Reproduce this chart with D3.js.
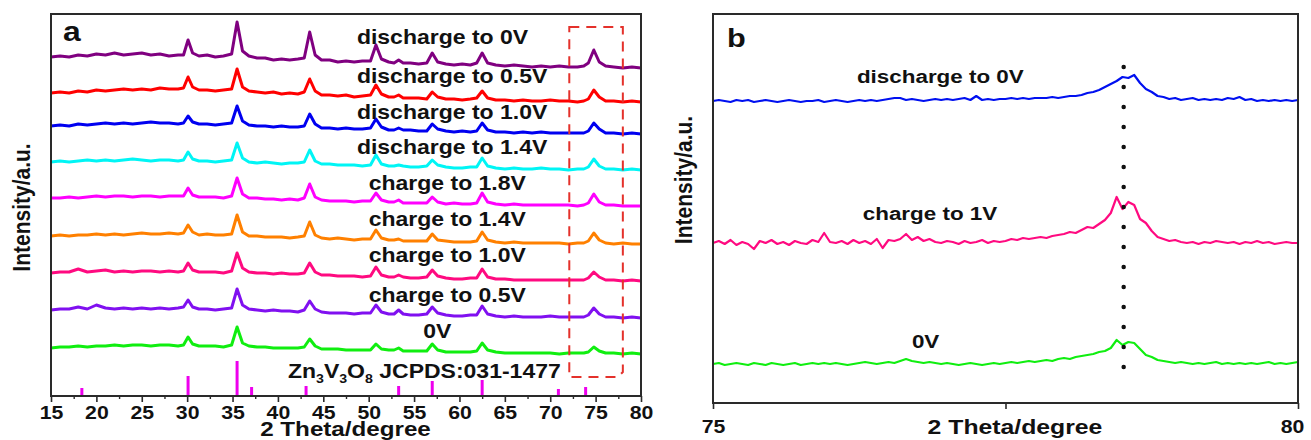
<!DOCTYPE html>
<html>
<head>
<meta charset="utf-8">
<script src="https://cdn.jsdelivr.net/npm/d3@7"></script>
<style>
  body { margin: 0; background: #fff; }
  text { font-family: "Liberation Sans", Arial, sans-serif; font-weight: bold; fill: #111; }
</style>
</head>
<body>
<svg id="chart" width="1311" height="440"></svg>
<script>
// ---------- Panel a: ex-situ XRD patterns, 15–80° ----------
// 2θ sampling positions shared by every pattern in panel a
const thetaA = [
  15,16,17,18,19,20,21,22,23,24,25,26,27,28,29,
  29.6,30.1,30.6,31.3,32.2,33.1,34.0,34.9,
  35.5,36.1,36.8,37.7,38.6,39.5,40.4,41.3,42.2,42.9,
  43.5,44.1,44.8,45.7,46.6,47.5,48.4,49.3,50.2,
  50.8,51.4,52.2,52.8,53.3,53.8,54.6,55.5,56.4,
  57.0,57.6,58.5,59.4,60.3,61.2,61.9,
  62.5,63.1,64,65,66,67,68,69,70,71,72,73,73.7,74.2,
  74.8,75.4,76.1,77,78,79,80
];

const labelsA = ["discharge to 0V","discharge to 0.5V","discharge to 1.0V","discharge to 1.4V",
                 "charge to 1.8V","charge to 1.4V","charge to 1.0V","charge to 0.5V","0V"];
// vertical stacking offset of each pattern (a.u.)
const offsetsA = [328, 294, 262, 226, 190, 152, 115, 78, 42];

// intensity above each pattern's own offset (a.u.)
const dis0V = [
  11,12,11,13,12,14,13,15,13,14,15,13,14,12,13,
  13,28,15,12,13,11,12,14,
  46,17,12,10,10,8,9,8,9,10,
  36,13,8,8,6,7,6,7,7,
  23,9,6,5,8,5,5,4,5,
  15,6,4,3,4,3,5,
  15,5,3,2,3,2,1,2,1,2,1,1,2,5,
  18,6,2,1,0,1,0];
const dis05V = [
  9,10,9,11,10,12,11,12,13,12,13,12,14,13,13,
  14,25,15,12,12,11,12,13,
  33,15,11,10,9,10,8,9,8,10,
  23,11,7,7,6,7,5,6,7,
  17,8,5,5,7,4,4,4,3,
  10,5,3,3,2,3,4,
  11,4,2,2,1,2,1,1,2,1,1,0,1,3,
  12,5,1,1,0,1,0];
const dis10V = [
  8,9,8,10,9,10,11,10,11,10,11,12,11,11,10,
  11,18,12,10,10,9,10,11,
  28,13,9,8,8,7,8,7,7,8,
  20,10,6,6,5,6,5,5,6,
  15,7,4,4,6,4,4,3,3,
  10,5,3,2,3,2,3,
  11,4,2,2,1,2,1,2,1,1,1,1,1,3,
  11,5,1,1,0,1,0];
const dis14V = [
  8,9,8,9,10,9,10,9,10,11,10,9,10,10,9,
  10,18,11,9,9,8,9,10,
  27,12,8,7,8,7,6,7,7,8,
  20,9,6,6,5,5,5,4,5,
  15,6,4,4,5,4,3,3,4,
  10,5,3,2,2,3,3,
  12,4,2,1,2,1,1,2,1,1,0,1,1,3,
  11,4,1,1,0,1,0];
const chg18V = [
  8,8,9,8,9,10,9,10,10,9,10,10,9,10,10,
  10,18,11,9,9,9,8,10,
  28,12,8,8,7,7,6,7,6,8,
  22,9,6,5,5,5,4,5,5,
  13,6,4,4,6,3,3,3,3,
  9,4,2,3,2,2,3,
  13,4,2,1,2,1,1,1,1,1,1,0,1,3,
  12,4,1,1,0,0,0];
const chg14V = [
  8,9,8,9,9,10,9,10,9,10,11,10,10,11,10,
  11,19,12,9,10,9,9,10,
  29,12,8,8,7,7,7,6,7,8,
  22,9,6,5,6,5,4,5,5,
  14,6,4,4,5,3,3,3,3,
  10,4,3,2,2,2,3,
  12,4,2,1,2,1,1,1,1,1,0,1,1,3,
  11,4,1,0,1,0,0];
const chg10V = [
  8,9,9,12,9,10,11,9,10,9,10,10,9,10,9,
  10,18,11,9,9,9,8,10,
  28,13,9,8,8,7,8,7,7,8,
  18,9,6,6,5,5,5,4,5,
  14,6,4,4,6,4,3,3,4,
  11,5,3,2,2,3,3,
  12,4,2,2,1,1,1,1,1,1,1,1,1,3,
  9,4,1,1,0,1,0];
const chg05V = [
  8,9,9,11,9,13,10,9,10,9,10,9,10,9,10,
  11,18,11,9,9,8,9,10,
  29,13,9,8,7,8,7,7,6,8,
  17,9,6,5,5,5,4,5,5,
  13,6,4,4,8,4,3,3,4,
  11,5,3,2,2,3,3,
  12,4,2,1,2,1,1,1,2,1,1,1,1,3,
  10,4,1,1,0,1,0];
const ocv0V = [
  6,7,7,8,7,8,8,9,8,9,9,8,9,9,8,
  9,17,10,8,8,8,7,9,
  27,11,8,7,7,6,6,6,6,7,
  15,8,5,5,5,4,4,4,4,
  10,5,4,4,6,3,3,3,3,
  10,4,2,2,2,2,3,
  11,4,2,1,1,1,1,1,1,0,1,1,1,2,
  7,3,1,1,0,1,0];
const valuesA = [dis0V, dis05V, dis10V, dis14V, chg18V, chg14V, chg10V, chg05V, ocv0V];

// Zn3V3O8 standard card JCPDS 031-1477
const refTheta = [18.4, 30.1, 35.5, 37.1, 43.1, 53.3, 57.0, 62.5, 70.9, 73.9];
const refIntensity = [8, 20, 35, 9, 10, 10, 15, 16, 7, 9];

const ticksA = [15,20,25,30,35,40,45,50,55,60,65,70,75,80];
const minorTicksA = [17.5,22.5,27.5,32.5,37.5,42.5,47.5,52.5,57.5,62.5,67.5,72.5,77.5];

// ---------- Panel b: zoom on 75–80° ----------
const labelsB = ["discharge to 0V", "charge to 1V", "0V"];
const offsetsB = [302, 160, 39];
// sampled every 0.05° from 75 to 80
const bDis0V = [
  0,1,0,-1,1,0,1,-1,0,1,
  0,-1,0,1,0,-1,0,0,1,-1,
  0,1,0,-1,0,1,0,1,0,1,
  2,3,3,1,2,1,0,1,2,1,
  2,1,2,3,1,5,1,2,1,2,
  2,3,2,3,2,3,3,3,4,3,
  4,5,5,6,8,9,11,14,17,20,
  24,23,26,18,12,9,5,4,2,3,
  1,2,3,1,2,1,2,1,3,2,
  4,1,2,0,1,0,1,0,1,0,
  1];
const bChg1V = [
  0,2,-1,3,-2,1,-1,-6,2,0,
  3,-1,1,-2,2,0,-1,3,1,10,
  1,0,2,-1,3,0,2,-1,4,-5,
  3,2,4,9,3,6,2,4,1,0,
  2,1,-1,2,0,1,3,0,2,1,
  2,4,3,5,4,5,6,5,7,8,
  9,11,10,13,16,15,19,23,30,46,
  34,41,38,24,20,12,6,4,2,3,
  1,0,1,-1,1,0,2,1,0,1,
  -1,1,0,2,0,1,-1,0,1,0,
  0];
const bOcv0V = [
  0,1,-1,0,1,0,-1,1,0,-1,
  1,0,-1,0,1,-1,0,1,0,1,
  0,1,0,-1,0,1,2,1,0,1,
  2,1,3,5,3,2,1,2,1,0,
  1,0,-1,0,1,0,-1,0,1,0,
  1,2,1,2,3,2,3,4,3,5,
  6,5,7,8,9,10,12,13,16,24,
  19,22,21,15,9,7,4,3,2,1,
  2,1,0,1,0,1,2,0,1,0,
  1,0,1,0,1,2,0,1,0,1,
  2];
const valuesB = [bDis0V, bChg1V, bOcv0V];
const thetaB = bDis0V.map((_, i) => 75 + i * 0.05);
const peakCentreB = 78.51;
const ticksB = [75, 77.5, 80];
const tickLabelsB = ["75", "", "80"];

// ---------- layout & styles ----------
const SX = 1.18;                 // horizontal glyph stretch of the figure lettering
const frameA = { x0: 51, x1: 641, y0: 14, y1: 396 };
const frameB = { x0: 713, x1: 1298, y0: 14, y1: 403 };
const coloursA = ["#800080", "#ff0000", "#0000f0", "#00f5f5", "#ff00ff", "#ff8000", "#ff0a80", "#8010f0", "#10ee10"];
const coloursB = ["#0010f0", "#ff0a80", "#10ee10"];
const labelPosA = [[48.7,352.5],[48.7,313],[48.7,277.5],[48.7,242],[50.0,206.5],[50.0,170],[50.0,134],[50.0,94.5],[56.0,58]];
const labelPosB = [[76.23,320],[76.28,183],[76.70,55]];

const svg = d3.select("#chart");

function txt(g, x, y, s, size, anchor) {
  return g.append("text")
    .attr("transform", `translate(${x},${y}) scale(${SX},1)`)
    .attr("font-size", size)
    .attr("text-anchor", anchor || "start")
    .text(s);
}
function vtxt(g, x, y, s, size) {
  return g.append("text")
    .attr("transform", `translate(${x},${y}) rotate(-90) scale(1,${SX})`)
    .attr("font-size", size)
    .attr("text-anchor", "middle")
    .text(s);
}

// ===== Panel a =====
const xA = d3.scaleLinear().domain([15, 80]).range([frameA.x0, frameA.x1]);
const yA = d3.scaleLinear().domain([0, frameA.y1 - frameA.y0]).range([frameA.y1, frameA.y0]);
const gA = svg.append("g");

valuesA.forEach((vals, k) => {
  const line = d3.line()
    .x((d, i) => xA(thetaA[i]))
    .y(d => yA(offsetsA[k] + d));
  gA.append("path")
    .datum(vals)
    .attr("d", line)
    .attr("fill", "none")
    .attr("stroke", coloursA[k])
    .attr("stroke-width", 3)
    .attr("stroke-linejoin", "round");
});

// reference sticks
gA.selectAll("line.ref")
  .data(refTheta)
  .join("line")
  .attr("class", "ref")
  .attr("x1", d => xA(d)).attr("x2", d => xA(d))
  .attr("y1", yA(0))
  .attr("y2", (d, i) => yA(refIntensity[i]))
  .attr("stroke", "#ee00ee")
  .attr("stroke-width", 3);

// dashed region of interest around the 75° reflection
(function () {
  const x0 = xA(72.1), x1 = xA(78.0), y0 = yA(369), y1 = yA(19), r = 5;
  gA.append("path")
    .attr("d", `M${x0},${y0} H${x1} V${y1 - r} L${x1 - r},${y1} H${x0} Z`)
    .attr("fill", "none")
    .attr("stroke", "#e4312b")
    .attr("stroke-width", 2)
    .attr("stroke-dasharray", "10 7");
})();

// frame
gA.append("rect")
  .attr("x", frameA.x0).attr("y", frameA.y0)
  .attr("width", frameA.x1 - frameA.x0).attr("height", frameA.y1 - frameA.y0)
  .attr("fill", "none").attr("stroke", "#2a2a2a").attr("stroke-width", 2);

// bottom axis
const axA = gA.append("g").attr("transform", `translate(0,${frameA.y1})`)
  .call(d3.axisBottom(xA).tickValues(ticksA).tickSize(6).tickPadding(4).tickFormat(d3.format("d")));
axA.select(".domain").remove();
axA.selectAll("line").attr("stroke", "#2a2a2a").attr("stroke-width", 1.6);
axA.selectAll("text")
  .attr("font-size", 18).attr("fill", "#111")
  .attr("font-family", "Liberation Sans, Arial, sans-serif").attr("font-weight", "bold")
  .attr("transform", `scale(${SX},1)`);
const axAm = gA.append("g").attr("transform", `translate(0,${frameA.y1})`)
  .call(d3.axisBottom(xA).tickValues(minorTicksA).tickSize(3).tickFormat(""));
axAm.select(".domain").remove();
axAm.selectAll("line").attr("stroke", "#2a2a2a").attr("stroke-width", 1.4);

// series labels
labelsA.forEach((s, k) => txt(gA, xA(labelPosA[k][0]), yA(labelPosA[k][1]), s, 19.5));

// card label with subscripts
(function () {
  const t = gA.append("text")
    .attr("transform", `translate(${xA(41.1)},${yA(18.5)}) scale(${SX},1)`)
    .attr("font-size", 19.5);
  t.append("tspan").text("Zn");
  t.append("tspan").attr("font-size", 12).attr("dy", 5).text("3");
  t.append("tspan").attr("dy", -5).text("V");
  t.append("tspan").attr("font-size", 12).attr("dy", 5).text("3");
  t.append("tspan").attr("dy", -5).text("O");
  t.append("tspan").attr("font-size", 12).attr("dy", 5).text("8");
  t.append("tspan").attr("dy", -5).text(" JCPDS:031-1477");
})();

txt(gA, 345.5, 435.5, "2 Theta/degree", 20.5, "middle");
txt(gA, 63, 40.5, "a", 27);
vtxt(gA, 30, 207.5, "Intensity/a.u.", 21);

// ===== Panel b =====
const xB = d3.scaleLinear().domain([75, 80]).range([frameB.x0, frameB.x1]);
const yB = d3.scaleLinear().domain([0, frameB.y1 - frameB.y0]).range([frameB.y1, frameB.y0]);
const gB = svg.append("g");

valuesB.forEach((vals, k) => {
  const line = d3.line()
    .x((d, i) => xB(thetaB[i]))
    .y(d => yB(offsetsB[k] + d));
  gB.append("path")
    .datum(vals)
    .attr("d", line)
    .attr("fill", "none")
    .attr("stroke", coloursB[k])
    .attr("stroke-width", 2.2)
    .attr("stroke-linejoin", "round");
});

// dotted guide through the peak maximum
gB.append("line")
  .attr("x1", xB(peakCentreB)).attr("x2", xB(peakCentreB))
  .attr("y1", yB(336)).attr("y2", yB(34))
  .attr("stroke", "#111")
  .attr("stroke-width", 4.5)
  .attr("stroke-linecap", "round")
  .attr("stroke-dasharray", "0 20");

gB.append("rect")
  .attr("x", frameB.x0).attr("y", frameB.y0)
  .attr("width", frameB.x1 - frameB.x0).attr("height", frameB.y1 - frameB.y0)
  .attr("fill", "none").attr("stroke", "#2a2a2a").attr("stroke-width", 2);

const axB = gB.append("g").attr("transform", `translate(0,${frameB.y1})`)
  .call(d3.axisBottom(xB).tickValues(ticksB).tickSize(6).tickPadding(11)
    .tickFormat((d, i) => tickLabelsB[i]));
axB.select(".domain").remove();
axB.selectAll("line").attr("stroke", "#2a2a2a").attr("stroke-width", 1.6);
axB.selectAll("text")
  .attr("font-size", 18).attr("fill", "#111")
  .attr("font-family", "Liberation Sans, Arial, sans-serif").attr("font-weight", "bold")
  .attr("dx", (d, i) => (i === ticksB.length - 1 ? -5 : 0))
  .attr("transform", `scale(${SX},1)`);

labelsB.forEach((s, k) => txt(gB, xB(labelPosB[k][0]), yB(labelPosB[k][1]), s, 19));

txt(gB, 727, 47, "b", 26);
txt(gB, 1015, 434, "2 Theta/degree", 21, "middle");
vtxt(gB, 692, 180, "Intensity/a.u.", 21);
</script>
</body>
</html>
